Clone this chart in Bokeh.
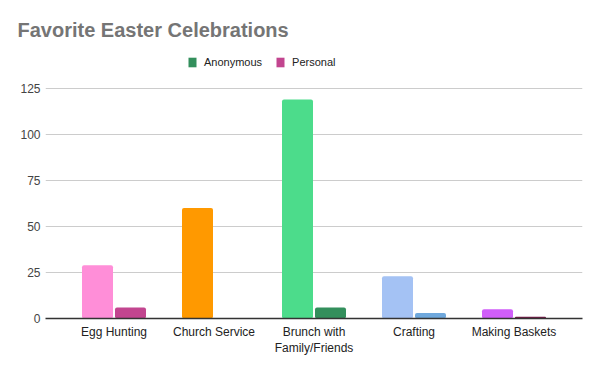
from bokeh.plotting import figure
from bokeh.models import ColumnDataSource, Legend, LegendItem, FixedTicker
from bokeh.transform import dodge
from bokeh.embed import file_html
from bokeh.resources import INLINE

categories = ["Egg Hunting", "Church Service", "Brunch with\nFamily/Friends", "Crafting", "Making Baskets"]
anonymous = [29, 60, 119, 23, 5]
personal = [6, 0, 6, 3, 1]
anon_colors = ["#ff8ed8", "#ff9900", "#4cdc8b", "#a4c2f4", "#d05ef9"]
pers_colors = ["#c2458f", "#c2458f", "#338f5c", "#6fa8dc", "#741b47"]
series_names = ["Anonymous", "Personal"]
legend_colors = ["#338f5c", "#c2458f"]
y_ticks = [0, 25, 50, 75, 100, 125]

FONT = "Liberation Sans"

src = ColumnDataSource(dict(cat=categories, anon=anonymous, pers=personal,
                            ac=anon_colors, pc=pers_colors))

# y range extends above the top tick so the legend can sit inside the frame
p = figure(x_range=categories, y_range=(0, 148.4), width=600, height=371,
           output_backend="svg", toolbar_location=None,
           min_border_left=45, min_border_right=18, min_border_top=45, min_border_bottom=53)

p.vbar(x=dodge("cat", -0.165, range=p.x_range), top="anon", width=0.31, source=src,
       fill_color="ac", line_color=None, border_radius=2)
p.vbar(x=dodge("cat", 0.165, range=p.x_range), top="pers", width=0.31, source=src,
       fill_color="pc", line_color=None, border_radius=2)

items = []
for name, col in zip(series_names, legend_colors):
    r = p.vbar(x=[categories[0]], top=[0], width=0.01, fill_color=col, line_color=None)
    items.append(LegendItem(label=name, renderers=[r]))

legend = Legend(items=items, orientation="horizontal", location=(142, 250),
                label_text_font=FONT, label_text_font_size="11px", label_text_color="#222222",
                glyph_width=10, glyph_height=12, spacing=13, label_standoff=7,
                border_line_color=None, background_fill_alpha=0, padding=0, margin=0)
p.add_layout(legend, "center")

p.title.text = "Favorite Easter Celebrations"
p.title.text_font = FONT
p.title.text_font_size = "20px"
p.title.text_font_style = "bold"
p.title.text_color = "#757575"
p.title.align = "left"
p.title.offset = -28

p.outline_line_color = None
p.xgrid.grid_line_color = None
p.ygrid.grid_line_color = "#cccccc"
p.yaxis.ticker = FixedTicker(ticks=y_ticks)
p.ygrid.ticker = FixedTicker(ticks=y_ticks)
p.yaxis.axis_line_color = None
p.yaxis.major_tick_line_color = None
p.yaxis.minor_tick_line_color = None
p.yaxis.major_tick_out = 0
p.yaxis.major_label_text_font = FONT
p.yaxis.major_label_text_font_size = "12px"
p.yaxis.major_label_text_color = "#444444"
p.yaxis.major_label_standoff = 5

p.xaxis.axis_line_color = "#333333"
p.xaxis.axis_line_width = 1.5
p.xaxis.major_tick_line_color = None
p.xaxis.minor_tick_line_color = None
p.xaxis.major_tick_out = 0
p.xaxis.major_label_text_font = FONT
p.xaxis.major_label_text_font_size = "12px"
p.xaxis.major_label_text_color = "#222222"
p.xaxis.major_label_standoff = 6
p.x_range.range_padding = 0.074

open("out.html", "w").write(file_html(p, INLINE))
